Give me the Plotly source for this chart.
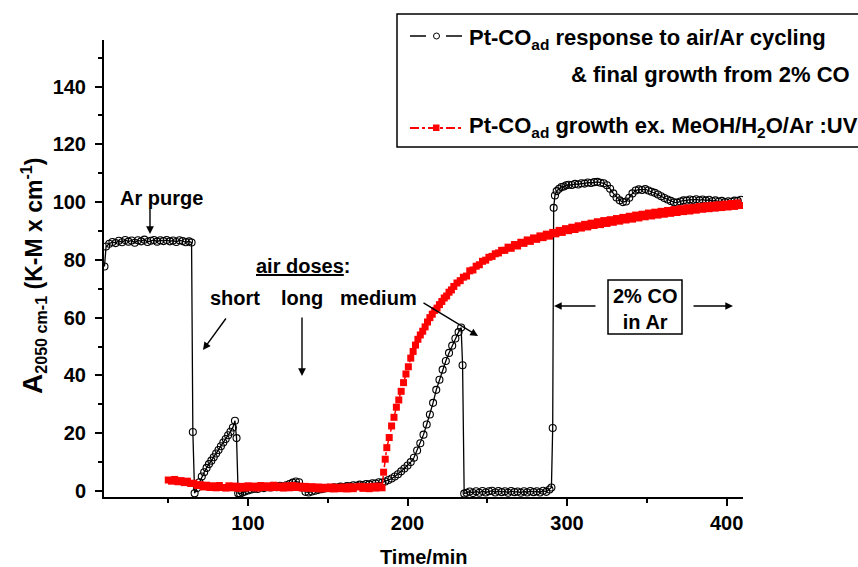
import plotly.graph_objects as go

# ---------------- data ----------------
cyc_time = [10, 11, 13, 15, 17, 19, 21, 23, 25, 27, 29, 31, 33, 35, 37, 39, 41, 43, 45, 47, 49,
            51, 53, 55, 57, 59, 61, 63, 64.6, 65.4, 66.5, 68, 69.5, 71, 72.5, 74, 75.5, 77, 78.5,
            80, 81.5, 83, 84.5, 86, 87.5, 89, 90.5, 91.8, 92.8, 93.8, 95, 96.5, 98, 100, 102, 104,
            106, 108, 110, 112, 114, 116, 118, 120, 122, 124, 126, 128, 130, 132, 134, 136, 138,
            140, 142, 144, 146, 148, 150, 152, 154, 156, 158, 160, 162, 164, 166, 168, 170, 172,
            174, 176, 178, 180, 182, 184, 186, 188, 190, 192, 194, 196, 198, 200, 202, 204, 206,
            208, 210, 212, 214, 216, 218, 220, 222, 224, 226, 228, 230, 232, 233.6, 234.5, 235.5,
            237, 239, 241, 243, 245, 247, 249, 251, 253, 255, 257, 259, 261, 263, 265, 267, 269,
            271, 273, 275, 277, 279, 281, 283, 285, 287, 289, 290.2, 291, 291.6, 292.4, 293.5, 295,
            296.5, 298, 299.5, 301, 303, 305, 307, 309, 311, 313, 315, 317, 319, 321, 323, 325, 327,
            329, 331, 333, 335, 337, 339, 341, 343, 345, 347, 349, 351, 353, 355, 357, 359, 361,
            363, 365, 367, 369, 371, 373, 375, 377, 379, 381, 383, 385, 387, 389, 391, 393, 395,
            397, 399, 401, 403, 405, 407, 409]
cyc_abs = [77.7, 84.6, 85.6, 86.2, 85.8, 86.6, 86.1, 86.9, 86.3, 86.7, 85.9, 86.8, 86.4, 87.0, 86.2,
           86.6, 86.9, 86.3, 86.8, 86.5, 86.9, 86.4, 86.7, 86.2, 86.8, 86.5, 86.1, 86.4, 86.0, 20.4,
           -0.8, 1.0, 3.0, 5.0, 6.5, 8.0, 9.3, 10.5, 11.7, 13.0, 14.2, 15.5, 16.8, 18.0, 19.3, 20.5,
           22.0, 24.3, 18.3, -0.8, -0.9, -0.5, -0.2, 0.2, 0.5, 0.8, 0.7, 1.2, 1.0, 1.4, 1.2, 1.6,
           1.3, 1.8, 1.5, 2.0, 2.4, 2.9, 3.3, 3.0, 1.2, -0.3, -0.5, -0.2, 0.1, 0.4, 0.6, 0.9, 1.1,
           1.0, 1.3, 1.2, 1.5, 1.4, 1.7, 1.6, 2.0, 1.8, 2.2, 2.0, 2.4, 2.3, 2.7, 2.6, 3.0, 2.9, 3.3,
           3.8, 4.3, 5.0, 5.8, 6.8, 7.8, 8.8, 10.0, 11.5, 14.0, 16.5, 19.5, 23.0, 26.5, 30.5, 35.0,
           38.5, 42.0, 45.0, 47.8, 50.3, 52.8, 55.0, 56.6, 43.5, -0.9, -0.6, -0.2, -0.7, -0.1, -0.6,
           0.0, -0.5, -0.1, 0.1, -0.5, 0.0, -0.4, -0.1, -0.6, 0.0, -0.4, -0.2, -0.6, -0.1, -0.5, 0.0,
           -0.4, -0.1, -0.5, 0.1, -0.3, 0.5, 1.2, 21.8, 98.0, 102.3, 103.8, 104.6, 105.2, 105.4,
           105.8, 106.0, 105.9, 106.3, 106.1, 106.5, 106.4, 106.8, 106.6, 106.9, 107.0, 106.7, 106.5,
           105.8, 104.6, 103.0, 101.6, 100.6, 100.0, 100.2, 101.5, 103.0, 104.0, 104.4, 104.2, 104.5,
           104.0, 103.6, 103.2, 102.6, 102.0, 101.4, 100.9, 100.4, 99.9, 99.8, 100.2, 100.6, 100.5,
           100.9, 100.7, 101.0, 100.6, 100.9, 100.5, 100.8, 100.3, 100.6, 100.1, 100.4, 100.0, 100.3,
           100.1, 100.5, 100.4, 100.8]

uv_time = [50, 52, 54, 56, 58, 60, 62, 64, 66, 68, 70, 72, 74, 76, 78, 80, 82, 84, 86, 88, 90, 92,
           94, 96, 98, 100, 102, 104, 106, 108, 110, 112, 114, 116, 118, 120, 122, 124, 126, 128,
           130, 132, 134, 136, 138, 140, 142, 144, 146, 148, 150, 152, 154, 156, 158, 160, 162, 164,
           166, 168, 170, 172, 174, 176, 178, 180, 182, 184, 185, 186, 187, 188.5, 190, 191.5, 193,
           194.5, 196, 197.5, 199, 200.5, 202, 203.5, 205, 206.5, 208, 209.5, 211, 212.5, 214,
           215.5, 217, 218.5, 220, 221.5, 223, 224.5, 226, 227.5, 229, 231, 233, 235, 237, 239,
           241, 243, 245, 247, 249, 251, 253, 255, 257, 259, 261, 263, 265, 267, 269, 271, 273, 275,
           277, 279, 281, 283, 285, 287, 289, 291, 293, 295, 297, 299, 301, 303, 305, 307, 309, 311,
           313, 315, 317, 319, 321, 323, 325, 327, 329, 331, 333, 335, 337, 339, 341, 343, 345, 347,
           349, 351, 353, 355, 357, 359, 361, 363, 365, 367, 369, 371, 373, 375, 377, 379, 381, 383,
           385, 387, 389, 391, 393, 395, 397, 399, 401, 403, 405, 407, 409]
uv_abs = [3.8, 3.4, 4.0, 3.2, 3.6, 2.9, 3.4, 2.6, 2.7, 1.9, 2.2, 1.4, 2.0, 1.2, 1.8, 1.1, 1.9, 1.2,
          1.0, 1.8, 1.1, 1.7, 0.9, 1.6, 1.0, 1.8, 1.1, 1.7, 1.0, 1.9, 1.2, 1.8, 1.1, 2.0, 1.2, 1.7,
          1.0, 1.8, 1.1, 1.9, 1.2, 1.7, 1.0, 1.6, 0.9, 1.5, 0.8, 1.4, 0.7, 1.3, 0.8, 1.4, 0.7, 1.3,
          0.8, 1.4, 0.7, 1.5, 0.8, 1.4, 1.6, 0.9, 1.5, 0.8, 1.6, 1.0, 1.7, 1.1, 6.5, 11.0, 15.0,
          18.5, 22.5, 25.5, 29.0, 31.5, 34.5, 37.5, 40.5, 43.0, 46.0, 48.3, 50.5, 52.5, 54.0, 55.3,
          56.8, 58.5, 60.0, 61.2, 62.5, 63.3, 64.5, 65.6, 66.8, 67.5, 68.8, 69.6, 70.8, 72.0, 72.8,
          74.0, 74.4, 76.2, 76.5, 77.8, 78.3, 79.5, 79.9, 80.9, 81.2, 82.1, 82.4, 83.3, 83.3, 84.4,
          84.0, 85.3, 84.8, 86.1, 85.7, 86.9, 86.4, 87.6, 87.1, 88.3, 87.7, 88.9, 88.2, 89.5, 89.0,
          90.2, 89.5, 90.8, 90.1, 91.3, 90.5, 91.8, 91.0, 92.3, 91.4, 92.7, 91.9, 93.2, 92.2, 93.6,
          92.6, 93.9, 93.0, 94.3, 93.4, 94.7, 93.8, 95.1, 94.1, 95.5, 94.5, 95.8, 94.9, 96.2, 95.2,
          96.5, 95.5, 96.8, 95.8, 97.1, 96.1, 97.4, 96.4, 97.7, 96.7, 98.0, 96.9, 98.2, 97.2, 98.5,
          97.5, 98.7, 97.7, 98.9, 97.9, 99.1, 98.1, 99.3, 98.3, 99.5, 98.5, 99.7, 98.8, 99.8]

x_ticks = [100, 200, 300, 400]
y_ticks = [0, 20, 40, 60, 80, 100, 120, 140]

# ---------------- layout geometry (pixels) ----------------
W, H = 858, 567
L, R, T, B = 104, 743, 40, 497
FONT = "Liberation Sans, Arial, sans-serif"


def px(x):
    return (x - L) / (R - L)


def py(y):
    return (B - y) / (B - T)


fig = go.Figure()
fig.add_trace(go.Scatter(
    x=cyc_time, y=cyc_abs, mode="lines+markers", name="cycling",
    line=dict(color="black", width=1.3),
    marker=dict(symbol="circle-open", size=7, color="black", line=dict(width=1.1)),
    showlegend=False))
fig.add_trace(go.Scatter(
    x=uv_time, y=uv_abs, mode="lines+markers", name="UV",
    line=dict(color="#ff0000", width=1.5, dash="dashdot"),
    marker=dict(symbol="square", size=7, color="#ff0000", line=dict(width=0)),
    showlegend=False))

shapes = []
annotations = []

# legend box and samples
shapes.append(dict(type="rect", xref="paper", yref="paper", x0=px(397), x1=px(880),
                   y0=py(147), y1=py(14), line=dict(color="black", width=1.5)))
shapes.append(dict(type="line", xref="paper", yref="paper", x0=px(410), x1=px(426),
                   y0=py(36), y1=py(36), line=dict(color="black", width=1.5)))
shapes.append(dict(type="line", xref="paper", yref="paper", x0=px(446), x1=px(462),
                   y0=py(36), y1=py(36), line=dict(color="black", width=1.5)))
shapes.append(dict(type="circle", xref="paper", yref="paper", x0=px(433.5), x1=px(439.5),
                   y0=py(39), y1=py(33), line=dict(color="black", width=1), fillcolor="white"))
shapes.append(dict(type="line", xref="paper", yref="paper", x0=px(410), x1=px(464),
                   y0=py(128), y1=py(128), line=dict(color="#ff0000", width=2, dash="dashdot")))
shapes.append(dict(type="rect", xref="paper", yref="paper", x0=px(433), x1=px(439.5),
                   y0=py(131), y1=py(124.5), line=dict(width=0), fillcolor="#ff0000"))
# 2% CO box
shapes.append(dict(type="rect", xref="paper", yref="paper", x0=px(608), x1=px(682),
                   y0=py(334), y1=py(280), line=dict(color="black", width=1.5)))


def txt(t, x, y, size=20, xanchor="center", angle=0):
    annotations.append(dict(text=t, x=px(x), y=py(y), xref="paper", yref="paper",
                            showarrow=False, xanchor=xanchor, yanchor="middle", textangle=angle,
                            font=dict(family=FONT, size=size, color="black", weight="bold")))


def arrow(x0, y0, x1, y1):
    annotations.append(dict(text="", x=px(x1), y=py(y1), xref="paper", yref="paper",
                            ax=x0 - x1, ay=y0 - y1, axref="pixel", ayref="pixel",
                            showarrow=True, arrowhead=2, arrowsize=1.1, arrowwidth=1.4,
                            arrowcolor="black"))


txt("Pt-CO<sub>ad</sub> response to air/Ar cycling", 467, 39, size=22, xanchor="left")
txt("& final growth from 2% CO", 569, 74, size=22, xanchor="left")
txt("Pt-CO<sub>ad</sub> growth ex. MeOH/H<sub>2</sub>O/Ar :UV", 467, 127, size=22, xanchor="left")

txt("Ar purge", 161, 198)
arrow(150, 207, 150, 234)
txt("<u>air doses</u>:", 303, 266)
txt("short", 235, 298)
txt("long", 302, 298)
txt("medium", 378, 298)
arrow(227, 317, 203, 350)
arrow(302, 316, 302, 376)
arrow(422, 302, 478, 336)
txt("2% CO<br>in Ar", 645, 309)
arrow(597, 306, 554, 306)
arrow(692, 306, 733, 306)

# axis titles placed in the margins
txt("Time/min", 423, 557)
txt("<span style='font-size:28px'>A</span><sub>2050 cm-1</sub> (K-M x cm<sup>-1</sup>)",
    33, 276, size=23, angle=-90)

fig.update_layout(
    width=W, height=H,
    margin=dict(l=L, r=W - R, t=T, b=H - B, pad=0),
    paper_bgcolor="white", plot_bgcolor="white",
    font=dict(family=FONT, color="black"),
    shapes=shapes, annotations=annotations,
    showlegend=False,
)
fig.update_xaxes(
    range=[9.7, 410.3], showgrid=False, zeroline=False,
    showline=True, linecolor="black", linewidth=2,
    ticks="outside", ticklen=7, tickwidth=1.5, tickcolor="black",
    tickvals=x_ticks, ticktext=[str(v) for v in x_ticks],
    minor=dict(tickvals=[50, 150, 250, 350], ticks="outside", ticklen=4, tickwidth=1.5, tickcolor="black"),
    tickfont=dict(family=FONT, size=20, color="black", weight="bold"),
)
fig.update_yaxes(
    range=[-2.08, 156.1], showgrid=False, zeroline=False, automargin=False,
    showline=True, linecolor="black", linewidth=2,
    ticks="outside", ticklen=7, tickwidth=1.5, tickcolor="black",
    tickvals=y_ticks, ticktext=[str(v) for v in y_ticks], ticklabelstandoff=5,
    minor=dict(tickvals=[10, 30, 50, 70, 90, 110, 130, 150], ticks="outside", ticklen=4,
               tickwidth=1.5, tickcolor="black"),
    tickfont=dict(family=FONT, size=20, color="black", weight="bold"),
)

fig.write_html("out.html")
